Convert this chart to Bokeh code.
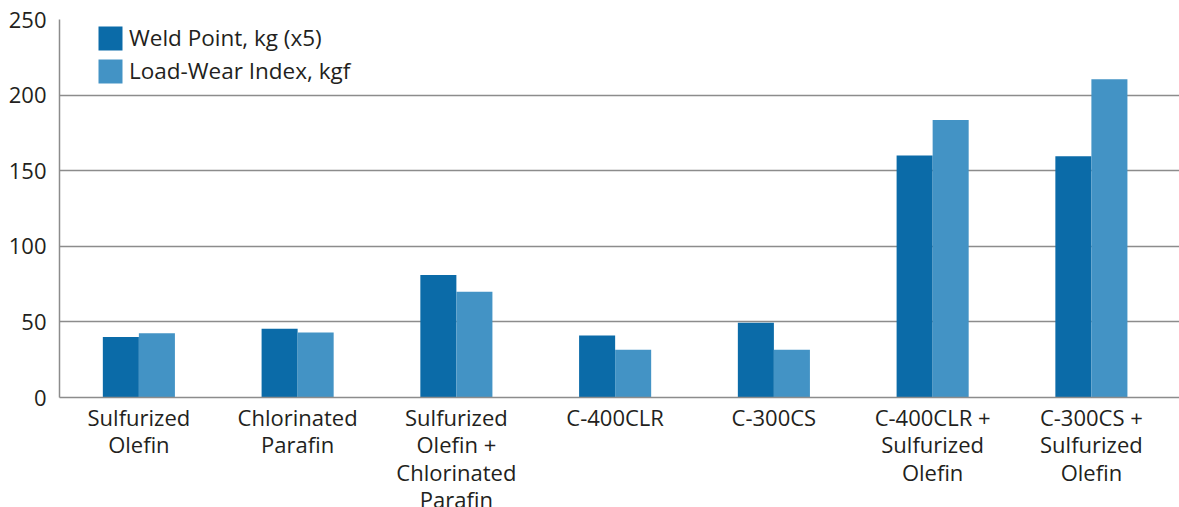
from bokeh.plotting import figure
from bokeh.models import ColumnDataSource, Range1d, FixedTicker, Legend, LegendItem
from bokeh.transform import dodge
from bokeh.embed import file_html
from bokeh.resources import INLINE

categories = [
    "Sulfurized\nOlefin",
    "Chlorinated\nParafin",
    "Sulfurized\nOlefin +\nChlorinated\nParafin",
    "C-400CLR",
    "C-300CS",
    "C-400CLR +\nSulfurized\nOlefin",
    "C-300CS +\nSulfurized\nOlefin",
]
weld_point = [40, 45.5, 81, 41, 49.5, 160, 159.5]
load_wear = [42.5, 43, 70, 31.5, 31.5, 183.5, 210.5]
y_ticks = [0, 50, 100, 150, 200, 250]

DARK = "#0b6ba8"
LIGHT = "#4393c5"
FONT = "Open Sans"
TXT = "#231f20"
GRID = "#8c8c8c"

idx = list(range(len(categories)))
src = ColumnDataSource(dict(x=idx, weld=weld_point, lwi=load_wear))

p = figure(frame_width=1120, frame_height=378, output_backend="svg", toolbar_location=None,
           x_range=Range1d(-0.5, len(categories) - 0.445), y_range=Range1d(0, 250),
           min_border_left=59, min_border_top=19, min_border_bottom=0, min_border_right=0)
p.outline_line_color = None
bw = 0.227
r1 = p.vbar(x=dodge("x", -bw / 2), top="weld", width=bw, source=src, fill_color=DARK, line_color=None)
r2 = p.vbar(x=dodge("x", bw / 2), top="lwi", width=bw, source=src, fill_color=LIGHT, line_color=None)

p.xaxis.ticker = FixedTicker(ticks=idx)
p.xaxis.major_label_overrides = {i: c for i, c in enumerate(categories)}
p.yaxis.ticker = FixedTicker(ticks=y_ticks)
for ax in (p.xaxis[0], p.yaxis[0]):
    ax.major_tick_line_color = None
    ax.minor_tick_line_color = None
    ax.axis_line_color = GRID
    ax.axis_line_width = 1.5
    ax.major_label_text_font = FONT
    ax.major_label_text_color = TXT
p.yaxis.major_label_text_font_size = "22px"
p.xaxis.major_label_text_font_size = "22px"
p.xaxis.major_label_text_line_height = 0.92
p.yaxis.major_label_standoff = 7
p.xaxis.major_label_standoff = -2
p.xgrid.grid_line_color = None
p.ygrid.grid_line_color = GRID
p.ygrid.grid_line_width = 1.5

legend = Legend(items=[LegendItem(label="Weld Point, kg (x5)", renderers=[r1]),
                       LegendItem(label="Load-Wear Index, kgf", renderers=[r2])],
                location=(36, 311), glyph_width=30, glyph_height=30, spacing=2,
                label_standoff=4, padding=0, margin=0, border_line_color=None,
                background_fill_alpha=0, label_text_font=FONT,
                label_text_font_size="22.5px", label_text_color=TXT, label_height=30)
p.add_layout(legend)

open("out.html", "w").write(file_html(p, INLINE))
